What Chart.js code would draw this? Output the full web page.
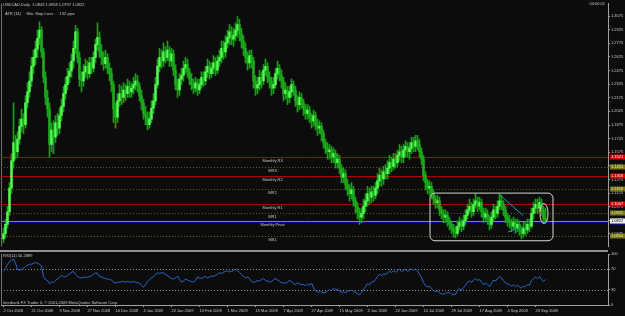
<!DOCTYPE html>
<html>
<head>
<meta charset="utf-8">
<script src="https://cdn.jsdelivr.net/npm/chart.js@4/dist/chart.umd.min.js"></script>
<style>
  html, body { margin: 0; padding: 0; background: #0c0c0c; }
  #wrap { position: relative; width: 625px; height: 316px; overflow: hidden; }
  #main { position: absolute; left: 0; top: 0; }
  #rsi { position: absolute; left: 0; top: 250px; }
</style>
</head>
<body>
<div id="wrap">
  <canvas id="main" width="625" height="250"></canvas>
  <canvas id="rsi" width="625" height="66"></canvas>
</div>
<script>
// USDCAD daily, 2 Oct 2008 - 25 Sep 2009
const firstOpen = 1.062;
const closes = [
  1.068,1.078,1.092,1.118,1.148,1.168,1.158,1.172,1.186,1.194,
  1.188,1.212,1.224,1.236,1.252,1.262,1.271,1.283,1.292,1.268,
  1.240,1.218,1.205,1.166,1.182,1.174,1.190,1.184,1.198,1.208,
  1.222,1.232,1.241,1.247,1.258,1.272,1.290,1.262,1.238,1.236,
  1.246,1.252,1.244,1.256,1.250,1.262,1.276,1.284,1.268,1.262,
  1.255,1.262,1.250,1.244,1.232,1.205,1.196,1.214,1.222,1.218,
  1.226,1.222,1.230,1.224,1.228,1.232,1.236,1.230,1.220,1.212,
  1.200,1.196,1.188,1.194,1.206,1.214,1.232,1.252,1.262,1.258,
  1.268,1.262,1.270,1.258,1.266,1.248,1.232,1.226,1.238,1.242,
  1.250,1.254,1.246,1.238,1.232,1.228,1.234,1.226,1.232,1.240,
  1.236,1.246,1.252,1.244,1.250,1.256,1.248,1.258,1.262,1.272,
  1.268,1.278,1.284,1.290,1.282,1.286,1.292,1.298,1.288,1.280,
  1.272,1.262,1.256,1.264,1.258,1.236,1.228,1.232,1.240,1.236,
  1.248,1.252,1.240,1.236,1.228,1.232,1.244,1.250,1.242,1.236,
  1.222,1.226,1.218,1.224,1.232,1.226,1.214,1.210,1.218,1.212,
  1.205,1.200,1.204,1.196,1.192,1.198,1.188,1.184,1.186,1.178,
  1.168,1.162,1.158,1.160,1.152,1.156,1.146,1.150,1.140,1.130,
  1.134,1.122,1.118,1.112,1.116,1.104,1.098,1.092,1.086,1.090,
  1.098,1.104,1.112,1.108,1.114,1.110,1.118,1.126,1.132,1.128,
  1.136,1.134,1.140,1.146,1.142,1.150,1.146,1.154,1.158,1.152,
  1.160,1.164,1.158,1.162,1.168,1.164,1.170,1.166,1.158,1.150,
  1.132,1.124,1.118,1.120,1.112,1.106,1.102,1.104,1.094,1.090,
  1.086,1.088,1.082,1.078,1.074,1.070,1.068,1.076,1.080,1.076,
  1.082,1.088,1.094,1.098,1.092,1.100,1.104,1.098,1.102,1.092,
  1.086,1.090,1.084,1.078,1.086,1.094,1.090,1.098,1.104,1.100,
  1.094,1.086,1.082,1.080,1.076,1.080,1.074,1.078,1.072,1.068,
  1.074,1.072,1.078,1.076,1.090,1.096,1.100,1.096,1.102,1.094,
  1.0843,1.0822
];
const highs = [
  1.074,1.084,1.098,1.124,1.156,1.212,1.176,1.180,1.194,1.205,
  1.200,1.220,1.234,1.246,1.262,1.270,1.280,1.292,1.301,1.296,
  1.272,1.246,1.226,1.212,1.190,1.192,1.198,1.200,1.206,1.216,
  1.230,1.240,1.250,1.256,1.266,1.280,1.297,1.294,1.268,1.246,
  1.254,1.260,1.258,1.262,1.262,1.268,1.282,1.300,1.290,1.276,
  1.268,1.270,1.266,1.256,1.250,1.236,1.212,1.222,1.232,1.230,
  1.234,1.232,1.238,1.236,1.234,1.240,1.244,1.242,1.234,1.226,
  1.216,1.208,1.202,1.202,1.214,1.222,1.240,1.260,1.272,1.270,
  1.278,1.274,1.280,1.274,1.272,1.270,1.254,1.238,1.244,1.250,
  1.258,1.262,1.260,1.250,1.244,1.238,1.240,1.238,1.238,1.246,
  1.246,1.252,1.260,1.258,1.256,1.264,1.262,1.264,1.270,1.280,
  1.280,1.286,1.292,1.298,1.296,1.294,1.300,1.307,1.304,1.294,
  1.286,1.278,1.268,1.270,1.270,1.262,1.242,1.240,1.248,1.246,
  1.254,1.260,1.256,1.246,1.240,1.240,1.250,1.258,1.254,1.248,
  1.240,1.234,1.230,1.230,1.238,1.236,1.230,1.220,1.224,1.222,
  1.216,1.210,1.210,1.208,1.200,1.204,1.202,1.194,1.192,1.190,
  1.182,1.172,1.168,1.166,1.164,1.162,1.160,1.156,1.154,1.144,
  1.140,1.138,1.128,1.122,1.124,1.120,1.108,1.102,1.096,1.096,
  1.106,1.112,1.120,1.118,1.120,1.120,1.124,1.134,1.140,1.138,
  1.142,1.144,1.148,1.154,1.152,1.156,1.156,1.160,1.166,1.164,
  1.166,1.170,1.168,1.168,1.174,1.174,1.176,1.176,1.172,1.162,
  1.154,1.136,1.128,1.126,1.124,1.116,1.110,1.110,1.108,1.098,
  1.094,1.094,1.092,1.086,1.082,1.078,1.076,1.082,1.086,1.084,
  1.088,1.094,1.100,1.106,1.102,1.106,1.112,1.108,1.108,1.106,
  1.096,1.096,1.094,1.088,1.092,1.100,1.098,1.104,1.112,1.110,
  1.104,1.098,1.090,1.088,1.084,1.086,1.084,1.084,1.082,1.076,
  1.080,1.080,1.084,1.084,1.096,1.102,1.106,1.106,1.108,1.106,
  1.098,1.0958
];
const lows = [
  1.058,1.063,1.074,1.088,1.112,1.140,1.150,1.152,1.166,1.180,
  1.178,1.184,1.206,1.218,1.230,1.244,1.254,1.262,1.276,1.262,
  1.234,1.210,1.196,1.152,1.158,1.156,1.168,1.176,1.178,1.192,
  1.202,1.216,1.226,1.234,1.240,1.250,1.266,1.256,1.230,1.224,
  1.230,1.240,1.238,1.240,1.244,1.246,1.256,1.270,1.262,1.254,
  1.248,1.250,1.244,1.236,1.224,1.190,1.184,1.190,1.208,1.210,
  1.212,1.214,1.218,1.218,1.218,1.222,1.226,1.224,1.214,1.204,
  1.194,1.188,1.182,1.184,1.190,1.200,1.210,1.228,1.246,1.250,
  1.252,1.256,1.258,1.252,1.252,1.242,1.226,1.218,1.220,1.232,
  1.236,1.244,1.240,1.232,1.226,1.222,1.224,1.220,1.222,1.228,
  1.230,1.232,1.240,1.238,1.240,1.244,1.242,1.244,1.252,1.256,
  1.260,1.262,1.272,1.276,1.276,1.274,1.280,1.284,1.280,1.272,
  1.264,1.256,1.248,1.250,1.250,1.228,1.220,1.222,1.226,1.228,
  1.232,1.242,1.234,1.228,1.220,1.222,1.228,1.238,1.236,1.228,
  1.214,1.216,1.210,1.212,1.218,1.220,1.208,1.202,1.204,1.206,
  1.198,1.194,1.194,1.190,1.184,1.186,1.182,1.176,1.178,1.170,
  1.162,1.156,1.150,1.150,1.146,1.146,1.140,1.140,1.134,1.124,
  1.124,1.116,1.110,1.104,1.106,1.098,1.090,1.084,1.078,1.080,
  1.084,1.092,1.098,1.100,1.102,1.104,1.106,1.112,1.120,1.120,
  1.122,1.128,1.128,1.134,1.136,1.138,1.140,1.142,1.148,1.146,
  1.146,1.152,1.152,1.150,1.156,1.158,1.158,1.160,1.152,1.144,
  1.126,1.116,1.112,1.110,1.106,1.100,1.096,1.096,1.088,1.084,
  1.080,1.080,1.076,1.072,1.068,1.064,1.063,1.066,1.072,1.070,
  1.072,1.078,1.084,1.090,1.086,1.088,1.096,1.092,1.094,1.086,
  1.080,1.082,1.078,1.072,1.074,1.082,1.084,1.086,1.094,1.094,
  1.088,1.080,1.076,1.074,1.070,1.072,1.068,1.070,1.066,1.062,
  1.064,1.066,1.068,1.070,1.074,1.084,1.090,1.090,1.092,1.088,
  1.080,1.0797
];
const rsiValues = [
  66,72,80,85,88,90,82,70,68,70,
  72,76,78,80,80,82,83,82,80,76,
  56,50,48,42,45,44,48,51,54,58,
  56,55,58,61,64,66,60,56,54,53,
  54,55,54,56,57,60,63,62,56,55,
  53,52,51,50,49,45,43,44,45,46,
  46,45,46,45,45,46,45,44,43,38,
  35,40,46,50,53,56,60,63,62,63,
  63,60,58,54,52,51,53,57,50,45,
  47,51,49,47,46,45,48,55,53,52,
  54,56,53,55,57,56,58,60,63,62,
  64,66,67,65,66,68,70,68,64,60,
  56,53,55,52,46,44,46,48,47,50,
  52,48,47,45,46,50,52,49,47,43,
  44,42,45,48,46,42,40,44,41,40,
  40,38,41,39,43,34,28,26,25,26,
  24,25,27,30,28,33,30,31,27,25,
  26,24,27,28,29,27,25,22,20,24,
  30,36,42,40,45,45,50,56,60,58,
  61,60,63,66,64,67,64,68,70,66,
  68,70,66,68,71,68,70,67,60,54,
  44,38,35,37,32,28,26,28,24,22,
  21,23,25,24,22,20,21,28,32,29,
  34,39,45,47,44,49,52,48,50,45,
  40,43,40,36,42,49,47,52,56,53,
  48,43,41,40,37,40,36,39,35,33,
  37,36,40,39,48,52,55,52,56,50,
  46,50.2889
];
const dateLabels = ["2 Oct 2008","21 Oct 2008","9 Nov 2008","27 Nov 2008","16 Dec 2008",
  "4 Jan 2009","22 Jan 2009","10 Feb 2009","1 Mar 2009","19 Mar 2009","7 Apr 2009",
  "27 Apr 2009","15 May 2009","3 Jun 2009","22 Jun 2009","10 Jul 2009","29 Jul 2009",
  "17 Aug 2009","4 Sep 2009","23 Sep 2009"];
const dateTickBars = [0,14,28,42,56,70,84,98,112,126,140,154,168,182,196,210,224,238,252,266];
const priceTicks = [1.3075,1.2925,1.2775,1.2625,1.2475,1.2325,1.2175,1.2025,1.1875,1.1725,
  1.1575,1.1425,1.1275,1.1125,1.0975,1.0825,1.0675];
const rsiTicks = [0, 30, 70, 100];
const pivotNames = ["Monthly R3","MR3","Monthly R2","MR2","Monthly R1","MR1","Monthly Pivot","MS1"];
const pivotValues = [1.1521, 1.1414, 1.1318, 1.1168, 1.1007, 1.0911, 1.0808, 1.0654];

// styles
const FONT = '4px "Liberation Sans", Arial, sans-serif';
const TXT = '#c8c8c8';
const AXIS = '#a0a0a0';
const UP = '#55ff55', DOWN = '#1fae1f', WICK = '#18a018';
const pivotStyle = {
  R: { color: '#b00000', width: 1, dash: [], label: '#d80000', text: '#ffffff' },
  M: { color: '#5e5e18', width: 1, dash: [1, 2], label: '#767618', text: '#e8e8a0' },
  P: { color: '#00008a', width: 2, dash: [], label: '#1010e0', text: '#ffffff' }
};
const kindOf = n => n === 'Monthly Pivot' ? 'P' : (n.startsWith('Monthly') ? 'R' : 'M');

const opens = closes.map((c, i) => i === 0 ? firstOpen : closes[i - 1]);
const last = closes.length - 1;
const xMin = -1.25, xMax = 302.25;

const mainDecor = {
  id: 'mainDecor',
  beforeDatasetsDraw(chart) {
    const { ctx, chartArea: a, scales: { x, y } } = chart;
    ctx.save();
    ctx.fillStyle = '#707070';
    ctx.fillRect(1, a.top, 1, a.bottom - a.top);
    pivotNames.forEach((n, k) => {
      const st = pivotStyle[kindOf(n)];
      const py = Math.round(y.getPixelForValue(pivotValues[k])) + (st.width === 2 ? 0 : 0.5);
      ctx.strokeStyle = st.color; ctx.lineWidth = st.width; ctx.setLineDash(st.dash);
      ctx.beginPath(); ctx.moveTo(a.left, py); ctx.lineTo(a.right, py); ctx.stroke();
      ctx.setLineDash([]);
      ctx.fillStyle = TXT; ctx.font = FONT; ctx.textAlign = 'center'; ctx.textBaseline = 'middle';
      ctx.fillText(n, x.getPixelForValue(134.5), py + 3);
    });
    const by = Math.round(y.getPixelForValue(closes[last])) + 0.5;
    ctx.strokeStyle = '#8a8a8a'; ctx.lineWidth = 1;
    ctx.beginPath(); ctx.moveTo(a.left, by); ctx.lineTo(a.right, by); ctx.stroke();
    ctx.restore();
  },
  afterDatasetsDraw(chart) {
    const { ctx, scales: { x, y } } = chart;
    const px = v => x.getPixelForValue(v), py = v => y.getPixelForValue(v);
    ctx.save();
    ctx.strokeStyle = '#d8d8d8'; ctx.lineWidth = 1;
    const bx1 = px(213.25), bx2 = px(274.75), by1 = py(1.1125), by2 = py(1.0600);
    ctx.beginPath(); ctx.roundRect(bx1, by1, bx2 - bx1, by2 - by1, 5); ctx.stroke();
    ctx.beginPath();
    ctx.ellipse(px(270.25), py(1.0900), 4, 10, 0, 0, Math.PI * 2); ctx.stroke();
    ctx.strokeStyle = '#1c9aa8';
    ctx.beginPath(); ctx.moveTo(px(248.25), py(1.1103)); ctx.lineTo(px(259.75), py(1.0879)); ctx.stroke();
    ctx.beginPath(); ctx.moveTo(px(252.25), py(1.0697)); ctx.lineTo(px(258.25), py(1.0750)); ctx.stroke();
    ctx.fillStyle = TXT; ctx.font = FONT; ctx.textBaseline = 'middle'; ctx.textAlign = 'left';
    const f = v => v.toFixed(4);
    ctx.fillText('USDCAD,Daily  ' + f(opens[last]) + ' ' + f(highs[last]) + ' ' + f(lows[last]) + ' ' + f(closes[last]), 3, 5);
    ctx.fillText('ATR (14)     Min. Stop Loss :    132 pips', 5, 14);
    ctx.textAlign = 'right';
    ctx.fillText('04:00:01', 605, 4);
    ctx.restore();
  },
  afterDraw(chart) {
    const { ctx, chartArea: a, scales: { y } } = chart;
    ctx.save();
    ctx.font = FONT; ctx.textBaseline = 'middle'; ctx.textAlign = 'left';
    const tag = (v, bg, fg) => {
      const yy = Math.round(y.getPixelForValue(v));
      ctx.fillStyle = bg; ctx.fillRect(a.right + 2, yy - 2.5, 17, 5);
      ctx.fillStyle = fg; ctx.fillText(v.toFixed(4), a.right + 3, yy);
    };
    pivotNames.forEach((n, k) => {
      const st = pivotStyle[kindOf(n)];
      tag(pivotValues[k], st.label, st.text);
    });
    tag(closes[last], '#f0f0f0', '#000000');
    ctx.restore();
  }
};

new Chart(document.getElementById('main'), {
  type: 'bar',
  data: {
    datasets: [
      {
        data: closes.map((c, i) => ({ x: i, y: [lows[i], highs[i]] })),
        backgroundColor: WICK,
        barThickness: 1,
        grouped: false,
        borderWidth: 0,
        order: 2
      },
      {
        data: closes.map((c, i) => ({ x: i, y: [opens[i], c] })),
        backgroundColor: ctx => closes[ctx.dataIndex] >= opens[ctx.dataIndex] ? UP : DOWN,
        barThickness: 1.8,
        grouped: false,
        borderWidth: 0,
        order: 1
      }
    ]
  },
  options: {
    responsive: false,
    animation: false,
    layout: { padding: { left: 1, top: 0, right: 0, bottom: 0 } },
    plugins: { legend: { display: false }, tooltip: { enabled: false } },
    scales: {
      x: { type: 'linear', min: xMin, max: xMax, offset: false, display: false, grid: { offset: false } },
      y: {
        position: 'right',
        min: 1.053571, max: 1.321429,
        afterBuildTicks: s => { s.ticks = priceTicks.map(v => ({ value: v })); },
        afterFit: s => { s.width = 17; },
        grid: { drawOnChartArea: false, color: AXIS, tickLength: 2 },
        border: { color: AXIS },
        ticks: { color: TXT, font: { size: 4, family: 'Liberation Sans' }, padding: 1,
                 callback: v => v.toFixed(4) }
      }
    }
  },
  plugins: [mainDecor]
});

const rsiDecor = {
  id: 'rsiDecor',
  beforeDatasetsDraw(chart) {
    const { ctx, chartArea: a, scales: { y } } = chart;
    ctx.save();
    ctx.fillStyle = '#909090';
    ctx.fillRect(0, 0, a.right, 2);
    ctx.fillStyle = '#707070';
    ctx.fillRect(1, a.top, 1, a.bottom - a.top);
    ctx.strokeStyle = '#8a8a8a'; ctx.lineWidth = 1; ctx.setLineDash([1, 2]);
    [70, 30].forEach(v => {
      const yy = Math.round(y.getPixelForValue(v)) + 0.5;
      ctx.beginPath(); ctx.moveTo(a.left, yy); ctx.lineTo(a.right, yy); ctx.stroke();
    });
    ctx.restore();
  },
  afterDatasetsDraw(chart) {
    const { ctx } = chart;
    ctx.save();
    ctx.fillStyle = TXT; ctx.font = FONT; ctx.textBaseline = 'middle'; ctx.textAlign = 'left';
    ctx.fillText('RSI(14) ' + rsiValues[rsiValues.length - 1].toFixed(4), 3, 6);
    ctx.fillText('Interbank FX Trader 4, \u00a9 2001-2009 MetaQuotes Software Corp.', 3, 53);
    ctx.restore();
  }
};

new Chart(document.getElementById('rsi'), {
  type: 'line',
  data: {
    datasets: [{
      data: rsiValues.map((v, i) => ({ x: i, y: v })),
      borderColor: '#2a6cd0',
      borderWidth: 1,
      pointRadius: 0,
      tension: 0
    }]
  },
  options: {
    responsive: false,
    animation: false,
    layout: { padding: { left: 1, top: 4, right: 0, bottom: 0 } },
    plugins: { legend: { display: false }, tooltip: { enabled: false } },
    scales: {
      x: {
        type: 'linear', min: xMin, max: xMax, offset: false,
        afterBuildTicks: s => { s.ticks = dateTickBars.map(v => ({ value: v })); },
        afterFit: s => { s.height = 11; },
        grid: { drawOnChartArea: false, color: AXIS, tickLength: 2, offset: false },
        border: { color: AXIS },
        ticks: { color: TXT, font: { size: 4, family: 'Liberation Sans' }, align: 'start',
                 maxRotation: 0, autoSkip: false, padding: 1,
                 callback: v => dateLabels[dateTickBars.indexOf(v)] }
      },
      y: {
        position: 'right', min: 0, max: 100,
        afterBuildTicks: s => { s.ticks = rsiTicks.map(v => ({ value: v })); },
        afterFit: s => { s.width = 17; },
        grid: { drawOnChartArea: false, color: AXIS, tickLength: 2 },
        border: { color: AXIS },
        ticks: { color: TXT, font: { size: 4, family: 'Liberation Sans' }, padding: 1 }
      }
    }
  },
  plugins: [rsiDecor]
});
</script>
</body>
</html>
